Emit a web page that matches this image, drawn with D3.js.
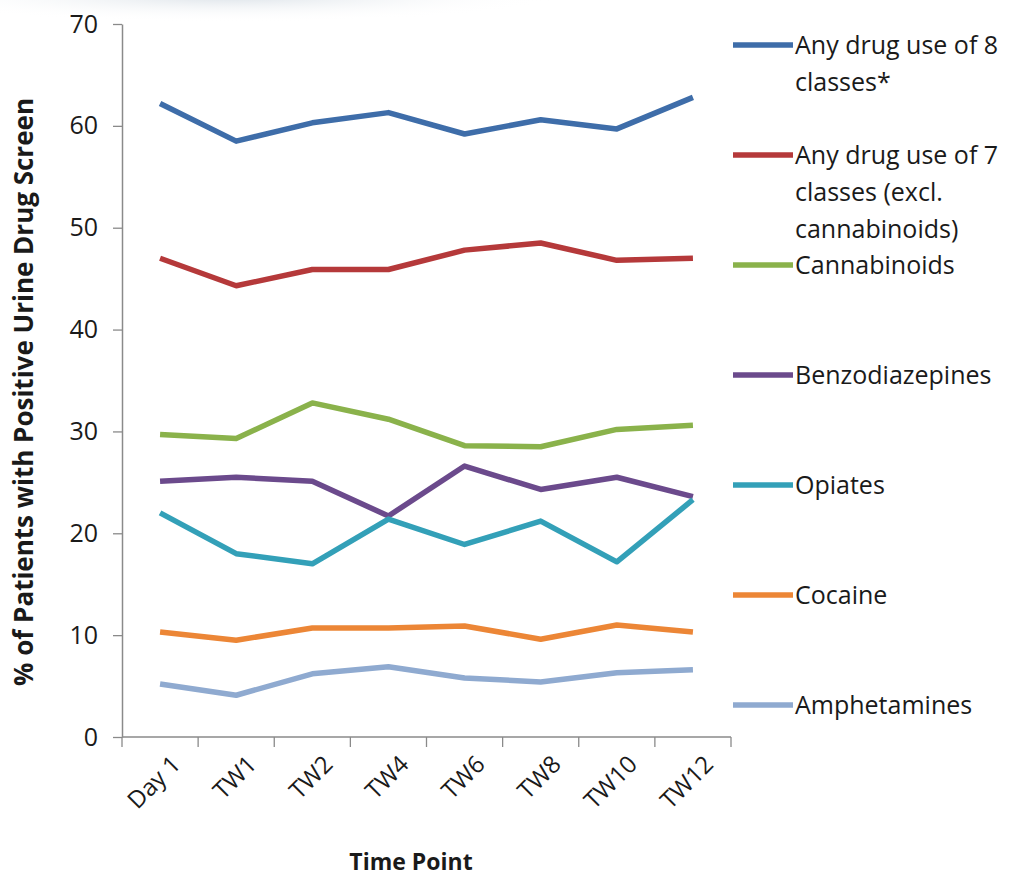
<!DOCTYPE html>
<html>
<head>
<meta charset="utf-8">
<script src="https://cdn.jsdelivr.net/npm/d3@7"></script>
<style>
  html, body { margin: 0; padding: 0; background: #fff; }
  svg { display: block; }
  text { font-family: "Open Sans", Lato, sans-serif; fill: #1a1a1a; }
</style>
</head>
<body>
<script>
// Time points along the x axis
const timePoints = ["Day 1", "TW1", "TW2", "TW4", "TW6", "TW8", "TW10", "TW12"];

// Percentage of patients with a positive urine drug screen, per class
const anyDrug8 = [62.2, 58.5, 60.3, 61.3, 59.2, 60.6, 59.7, 62.8];
const anyDrug7 = [47.0, 44.3, 45.9, 45.9, 47.8, 48.5, 46.8, 47.0];
const cannabinoids = [29.7, 29.3, 32.8, 31.2, 28.6, 28.5, 30.2, 30.6];
const benzodiazepines = [25.1, 25.5, 25.1, 21.7, 26.6, 24.3, 25.5, 23.6];
const opiates = [22.0, 18.0, 17.0, 21.4, 18.9, 21.2, 17.2, 23.3];
const cocaine = [10.3, 9.5, 10.7, 10.7, 10.9, 9.6, 11.0, 10.3];
const amphetamines = [5.2, 4.1, 6.2, 6.9, 5.8, 5.4, 6.3, 6.6];

// Legend labels (one entry per line of text)
const seriesLabels = [
  ["Any drug use of 8", "classes*"],
  ["Any drug use of 7", "classes (excl.", "cannabinoids)"],
  ["Cannabinoids"],
  ["Benzodiazepines"],
  ["Opiates"],
  ["Cocaine"],
  ["Amphetamines"]
];
const seriesColors = ["#3E6DA9", "#B5393A", "#8AB24B", "#6B4A8C", "#33A0B8", "#EC8636", "#8FAAD0"];
const yTicks = [0, 10, 20, 30, 40, 50, 60, 70];

const seriesValues = [anyDrug8, anyDrug7, cannabinoids, benzodiazepines, opiates, cocaine, amphetamines];
const series = seriesValues.map((values, i) => ({ values, label: seriesLabels[i], color: seriesColors[i] }));

const W = 1022, H = 879;
const plot = { left: 122, right: 731, top: 24, bottom: 737 };
const FONT = "'Open Sans', Lato, sans-serif";

const svg = d3.select("body").append("svg").attr("width", W).attr("height", H);

// Soft wash left over from the slide header at the top
const defs = svg.append("defs");
const grad = defs.append("radialGradient").attr("id", "haze")
  .attr("cx", "0.5").attr("cy", "0.5").attr("r", "0.5");
grad.append("stop").attr("offset", "0%").attr("stop-color", "#cfd8e0").attr("stop-opacity", 0.75);
grad.append("stop").attr("offset", "100%").attr("stop-color", "#ffffff").attr("stop-opacity", 0);
svg.append("ellipse").attr("cx", 230).attr("cy", -4).attr("rx", 330).attr("ry", 26).attr("fill", "url(#haze)");

const x = d3.scaleBand().domain(timePoints).range([plot.left, plot.right]);
const y = d3.scaleLinear().domain([0, 70]).range([plot.bottom, plot.top]);

// Y axis
const yAxis = svg.append("g")
  .attr("transform", `translate(${plot.left},0)`)
  .call(d3.axisLeft(y).tickValues(yTicks).tickSize(9).tickPadding(15).tickSizeOuter(0));
yAxis.select(".domain").attr("stroke", "#8a8a8a").attr("stroke-width", 1.5);
yAxis.selectAll(".tick line").attr("stroke", "#8a8a8a").attr("stroke-width", 1.3);
yAxis.selectAll(".tick text")
  .style("font-family", FONT)
  .style("font-size", "25px").attr("fill", "#1a1a1a");

// X axis: ticks sit on the band boundaries
const xAxis = svg.append("g").attr("transform", `translate(0,${plot.bottom})`);
xAxis.append("line")
  .attr("x1", plot.left).attr("x2", plot.right)
  .attr("stroke", "#8a8a8a").attr("stroke-width", 1.5);
const bounds = timePoints.map(d => x(d)).concat([x(timePoints[timePoints.length - 1]) + x.bandwidth()]);
xAxis.selectAll("line.tk").data(bounds).join("line").attr("class", "tk")
  .attr("x1", d => d).attr("x2", d => d).attr("y1", 0).attr("y2", 10)
  .attr("stroke", "#8a8a8a").attr("stroke-width", 1.3);
xAxis.selectAll("text.tl").data(timePoints).join("text").attr("class", "tl")
  .attr("transform", d => `translate(${x(d) + x.bandwidth() / 2 + 10},${17}) rotate(-45)`)
  .attr("text-anchor", "end")
  .attr("dy", "0.7em")
  .style("font-size", "24px")
  .text(d => d);

// Axis titles
svg.append("text")
  .attr("transform", `translate(33,${392}) rotate(-90)`)
  .attr("text-anchor", "middle")
  .style("font-weight", "bold").style("font-size", "26px")
  .text("% of Patients with Positive Urine Drug Screen");
svg.append("text")
  .attr("x", 411).attr("y", 870)
  .attr("text-anchor", "middle")
  .style("font-weight", "bold").style("font-size", "23px")
  .text("Time Point");

// Lines
const line = d3.line()
  .x((d, i) => x(timePoints[i]) + x.bandwidth() / 2)
  .y(d => y(d));
svg.append("g").selectAll("path").data(series).join("path")
  .attr("d", d => line(d.values))
  .attr("fill", "none")
  .attr("stroke", d => d.color)
  .attr("stroke-width", 5.5)
  .attr("stroke-linejoin", "round")
  .attr("stroke-linecap", "butt");

// Legend
const legend = svg.append("g");
const entry = legend.selectAll("g").data(series).join("g")
  .attr("transform", (d, i) => `translate(733,${45 + i * 110})`);
entry.append("line")
  .attr("x1", 0).attr("x2", 60)
  .attr("stroke", d => d.color).attr("stroke-width", 5.5);
entry.append("text")
  .attr("x", 62)
  .style("font-size", "25px")
  .each(function(d) {
    const t = d3.select(this);
    d.label.forEach((ln, k) => {
      t.append("tspan").attr("x", 62).attr("y", k * 37).attr("dy", "0.36em").text(ln);
    });
  });
</script>
</body>
</html>
